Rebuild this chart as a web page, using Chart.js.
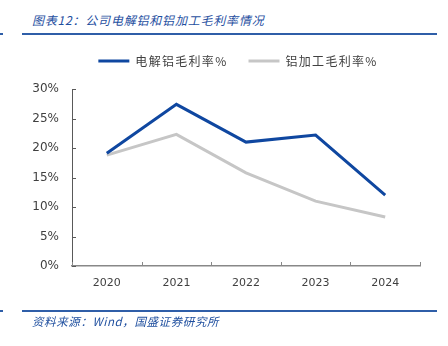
<!DOCTYPE html>
<html>
<head>
<meta charset="utf-8">
<script src="https://cdn.jsdelivr.net/npm/chart.js@4.4.0/dist/chart.umd.min.js"></script>
<style>
  body { margin: 0; background: #fff; }
  #wrap { position: relative; width: 448px; height: 346px; overflow: hidden; }
  #chart { position: absolute; left: 0; top: 0; }
  .title, .source {
    position: absolute; left: 32px; color: #1f4f9f; font-style: italic;
    font-family: "Noto Sans CJK SC", "DejaVu Sans", sans-serif; white-space: nowrap;
  }
  .title { top: 11px; font-size: 12px; letter-spacing: 0.8px; }
  .source { top: 313px; font-size: 11.5px; letter-spacing: 0.6px; }
  .rule { position: absolute; background: #2f5ea8; }
</style>
</head>
<body>
<div id="wrap">
  <div class="title">图表12：公司电解铝和铝加工毛利率情况</div>
  <div class="rule" style="left:0;top:33px;width:3px;height:2px"></div>
  <div class="rule" style="left:22px;top:33px;width:415px;height:2px"></div>
  <canvas id="chart" width="448" height="346"></canvas>
  <div class="rule" style="left:0;top:310px;width:3px;height:1.5px"></div>
  <div class="rule" style="left:22px;top:310px;width:415px;height:1.5px"></div>
  <div class="source">资料来源：Wind，国盛证券研究所</div>
</div>
<script>
const years = ['2020', '2021', '2022', '2023', '2024']
const smeltingMargin = [19.1, 27.4, 21.0, 22.2, 12.0]   // 电解铝毛利率%
const processingMargin = [18.8, 22.3, 15.8, 11.0, 8.3]  // 铝加工毛利率%
const seriesNames = ['电解铝毛利率%', '铝加工毛利率%']
const yMax = 30
const yStep = 5

const BLUE = '#0f47a0'
const GRAY = '#c6c6c6'

// short tick marks pointing into the plot on both axes
const innerTicks = {
    id: 'innerTicks',
    afterDatasetsDraw(chart) {
        const ctx = chart.ctx
        const x = chart.scales.x
        const y = chart.scales.y
        ctx.save()
        ctx.lineWidth = 1
        ctx.strokeStyle = '#595959'
        y.ticks.forEach((t, i) => {
            const py = Math.round(y.getPixelForTick(i)) + 0.5
            ctx.beginPath()
            ctx.moveTo(x.left, py)
            ctx.lineTo(x.left + 4, py)
            ctx.stroke()
        })
        ctx.strokeStyle = '#888'
        for (let i = 0; i <= years.length; i++) {
            const px = Math.round(x.getPixelForValue(i - 0.5)) + 0.5
            ctx.beginPath()
            ctx.moveTo(px, y.bottom)
            ctx.lineTo(px, y.bottom - 4)
            ctx.stroke()
        }
        ctx.restore()
    }
}

// spaced-out legend text, block ends where the plot starts, shifted right of centre
const legendTweak = {
    id: 'legendTweak',
    beforeInit(chart) {
        const legend = chart.legend
        const fit = legend.fit
        const draw = legend.draw
        legend.fit = function () {
            chart.ctx.save()
            chart.ctx.letterSpacing = '1.3px'
            fit.call(legend)
            chart.ctx.restore()
            this.height = 55
        }
        legend.draw = function () {
            chart.ctx.save()
            chart.ctx.letterSpacing = '1.3px'
            chart.ctx.translate(28, 0)
            draw.call(legend)
            chart.ctx.restore()
        }
    }
}

const ctx = document.getElementById('chart').getContext('2d')
const myChart = new Chart(ctx, {
    type: 'line',
    data: {
        labels: years,
        datasets: [{
            label: seriesNames[0],
            data: smeltingMargin,
            borderColor: BLUE,
            backgroundColor: BLUE,
            borderWidth: 3,
            pointRadius: 0,
            tension: 0
        }, {
            label: seriesNames[1],
            data: processingMargin,
            borderColor: GRAY,
            backgroundColor: GRAY,
            borderWidth: 3,
            pointRadius: 0,
            tension: 0
        }]
    },
    options: {
        responsive: false,
        animation: false,
        layout: { padding: { top: 34, left: 0, right: 28, bottom: 0 } },
        scales: {
            x: {
                offset: true,
                grid: { display: false, drawTicks: false },
                border: { display: true, color: '#888', width: 1.5 },
                ticks: {
                    padding: 11,
                    color: '#404040',
                    font: { family: 'DejaVu Sans', size: 11 }
                },
                afterFit(scale) { scale.height = 80 }
            },
            y: {
                min: 0,
                max: yMax,
                grid: { display: false, drawTicks: false },
                border: { display: true, color: '#595959', width: 1 },
                ticks: {
                    stepSize: yStep,
                    padding: 13,
                    color: '#404040',
                    font: { family: 'DejaVu Sans', size: 12 },
                    callback: v => v + '%'
                },
                afterFit(scale) { scale.width = 72 }
            }
        },
        plugins: {
            tooltip: { enabled: false },
            legend: {
                position: 'top',
                labels: {
                    boxWidth: 31,
                    boxHeight: 3,
                    padding: 21,
                    color: '#404040',
                    font: { family: '"Noto Sans CJK SC", "DejaVu Sans", sans-serif', size: 12 },
                    generateLabels(chart) {
                        return chart.data.datasets.map((ds, i) => ({
                            text: ds.label,
                            fillStyle: ds.borderColor,
                            strokeStyle: ds.borderColor,
                            lineWidth: 0,
                            fontColor: '#404040',
                            datasetIndex: i
                        }))
                    }
                }
            }
        }
    },
    plugins: [innerTicks, legendTweak]
})
</script>
</body>
</html>
